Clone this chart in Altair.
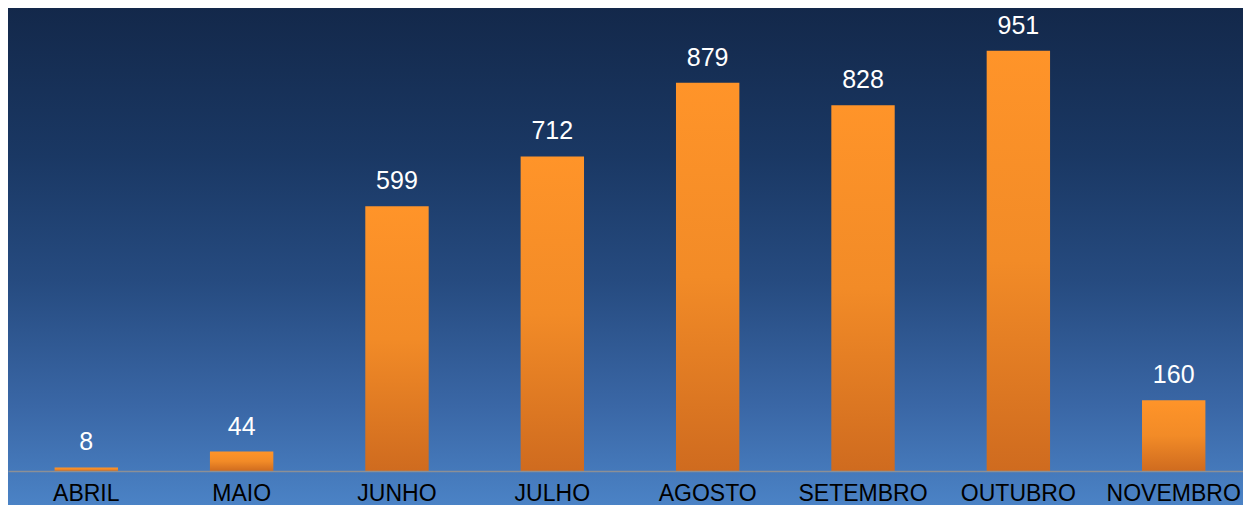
import altair as alt
import pandas as pd

months = ["ABRIL", "MAIO", "JUNHO", "JULHO", "AGOSTO", "SETEMBRO", "OUTUBRO", "NOVEMBRO"]
values = [8, 44, 599, 712, 879, 828, 951, 160]

df = pd.DataFrame({"mes": months, "valor": values})

W, H = 1235, 463
BOTTOM = 34
FONT = "Liberation Sans"

bg_grad = alt.Gradient(
    gradient="linear",
    stops=[
        alt.GradientStop(color="#13284a", offset=0),
        alt.GradientStop(color="#1a3864", offset=0.3),
        alt.GradientStop(color="#264b80", offset=0.55),
        alt.GradientStop(color="#3a67a6", offset=0.8),
        alt.GradientStop(color="#4b83c6", offset=1),
    ],
    x1=0, x2=0, y1=0, y2=1,
)

bar_grad = alt.Gradient(
    gradient="linear",
    stops=[
        alt.GradientStop(color="#ff9429", offset=0),
        alt.GradientStop(color="#f28b27", offset=0.5),
        alt.GradientStop(color="#cf6b1f", offset=1),
    ],
    x1=0, x2=0, y1=0, y2=1,
)

x = alt.X(
    "mes:N",
    sort=months,
    scale=alt.Scale(paddingInner=0.592, paddingOuter=0.3, range=[0, 1244]),
    axis=alt.Axis(
        title=None,
        labelAngle=0,
        labelFontSize=23,
        labelFont=FONT,
        labelColor="#000000",
        labelBaseline="alphabetic",
        ticks=False,
        domainColor="#8c9096",
        domainWidth=1.5,
        labelPadding=29,
        zindex=1,
        grid=False,
    ),
)
y = alt.Y("valor:Q", scale=alt.Scale(domain=[0, 1048], nice=False, zero=True), axis=None)

bg = alt.Chart(pd.DataFrame({"k": [0]})).mark_rect(color=bg_grad).encode(
    x=alt.value(-2), x2=alt.value(W + 2), y=alt.value(-2), y2=alt.value(H + BOTTOM + 2)
)

bars = alt.Chart(df).mark_bar(color=bar_grad).encode(x=x, y=y)

labels = alt.Chart(df).mark_text(
    color="white", fontSize=25, font=FONT, baseline="alphabetic", dy=-17
).encode(x=x, y=y, text="valor:Q")

chart = (
    alt.layer(bg, bars, labels)
    .properties(
        width=W,
        height=H,
        padding={"left": 0, "right": 0, "top": 0, "bottom": BOTTOM},
        autosize=alt.AutoSizeParams(type="none"),
        background="#4b83c6",
    )
    .configure_view(stroke=None)
)

chart.save("out.html", embed_options={"renderer": "svg", "actions": False})
